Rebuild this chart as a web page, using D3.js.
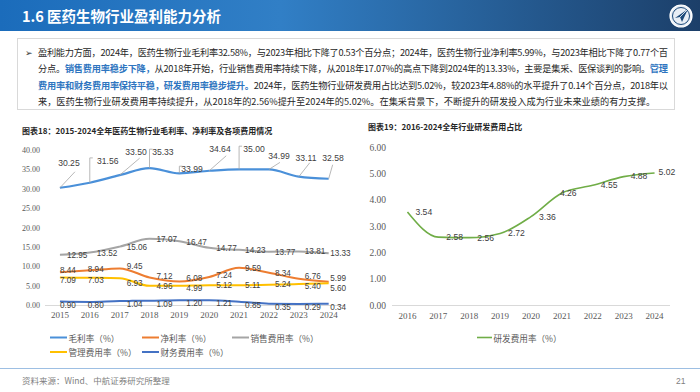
<!DOCTYPE html>
<html><head><meta charset="utf-8">
<script src="https://cdn.jsdelivr.net/npm/d3@7"></script>
<style>
html,body{margin:0;padding:0;background:#fff;}
svg{display:block;}
</style></head>
<body>
<script>
// ---------- data ----------
const years = ['2015','2016','2017','2018','2019','2020','2021','2022','2023','2024'];
const grossMargin    = [30.25,31.56,33.50,35.33,33.99,34.64,35.00,34.99,33.11,32.58];
const netMargin      = [8.44,8.94,9.45,7.12,6.08,7.24,9.59,8.34,6.76,5.99];
const salesExpense   = [12.95,13.52,15.06,17.07,16.47,14.77,14.23,13.77,13.81,13.33];
const adminExpense   = [7.09,7.03,6.93,4.96,4.99,5.12,5.11,5.24,5.40,5.60];
const financeExpense = [0.90,0.80,1.04,1.09,1.20,1.21,0.85,0.35,0.29,0.34];
const leftTicks = [0,5,10,15,20,25,30,35,40];
const leftLegend = ['毛利率（%）','净利率（%）','销售费用率（%）','管理费用率（%）','财务费用率（%）'];

const rdYears = ['2016','2017','2018','2019','2020','2021','2022','2023','2024'];
const rdExpense = [3.54,2.58,2.56,2.72,3.36,4.26,4.55,4.88,5.02];
const rightTicks = [0,1,2,3,4,5,6];
const rightLegend = ['研发费用率（%）'];

const W = 700, H = 392;
const svg = d3.select('body').append('svg').attr('width', W).attr('height', H);
const CJK = '"Noto Sans CJK SC","Noto Sans",sans-serif';
const SERIF = '"Liberation Serif","DejaVu Serif",serif';
const SANS = '"Liberation Sans",Arial,sans-serif';

// ---------- header ----------
const defs = svg.append('defs');
const grad = defs.append('linearGradient').attr('id','hdr').attr('x1','0').attr('x2','1').attr('y1','0').attr('y2','0');
grad.append('stop').attr('offset','0').attr('stop-color','#1b6cbb');
grad.append('stop').attr('offset','0.4').attr('stop-color','#317fc6');
grad.append('stop').attr('offset','1').attr('stop-color','#1c3f69');
svg.append('rect').attr('x',0).attr('y',0).attr('width',W).attr('height',31).attr('fill','url(#hdr)');
svg.append('text').attr('x',22).attr('y',21.5).attr('fill','#fff').attr('font-family',CJK)
  .attr('font-weight','bold').attr('font-size',14.5).text('1.6 医药生物行业盈利能力分析');
// logo
const lg = svg.append('g').attr('transform','translate(681,16)');
lg.append('circle').attr('r',11).attr('fill','#e8eef5').attr('stroke','#fff').attr('stroke-width',1.2);
lg.append('circle').attr('r',8.5).attr('fill','none').attr('stroke','#1c4a7a').attr('stroke-width',1);
lg.append('path').attr('d','M-6,2 L7,-7 L1,6 L-1,1 Z').attr('fill','#1c4a7a');
lg.append('path').attr('d','M-1,1 L7,-7').attr('stroke','#fff').attr('stroke-width',0.8);

// ---------- text box ----------
svg.append('rect').attr('x',17.5).attr('y',38.5).attr('width',657).attr('height',71)
  .attr('fill','#fff').attr('stroke','#d9d9d9').attr('stroke-width',1);
svg.append('text').attr('x',25).attr('y',56).attr('font-size',9).attr('fill','#333')
  .attr('font-family','"DejaVu Sans",sans-serif').text('➢');
const BLUE = '#2e75c0', DARK = '#262626';
const bodyLines = [
  [[ '盈利能力方面，2024年，医药生物行业毛利率32.58%，与2023年相比下降了0.53个百分点；2024年，医药生物行业净利率5.99%，与2023年相比下降了0.77个百', DARK, false]],
  [[ '分点。', DARK, false], ['销售费用率稳步下降，', BLUE, true], ['从2018年开始，行业销售费用率持续下降，从2018年17.07%的高点下降到2024年的13.33%，主要是集采、医保谈判的影响。', DARK, false], ['管理', BLUE, true]],
  [[ '费用率和财务费用率保持平稳，研发费用率稳步提升。', BLUE, true], ['2024年，医药生物行业研发费用占比达到5.02%，较2023年4.88%的水平提升了0.14个百分点，2018年以', DARK, false]],
  [[ '来，医药生物行业研发费用率持续提升，从2018年的2.56%提升至2024年的5.02%。在集采背景下，不断提升的研发投入成为行业未来业绩的有力支撑。', DARK, false]]
];
bodyLines.forEach((segs, i) => {
  const t = svg.append('text').attr('x',38).attr('y',56 + i*16.3)
    .attr('font-family',CJK).attr('font-size',9.2);
  if (i < 3) t.attr('textLength',630).attr('lengthAdjust','spacing');
  segs.forEach(s => t.append('tspan').attr('fill',s[1]).attr('font-weight', s[2] ? 'bold' : 'normal').text(s[0]));
});

// ---------- left chart ----------
svg.append('text').attr('x',22).attr('y',133.5).attr('font-family',CJK).attr('font-weight','bold')
  .attr('font-size',8).attr('fill','#262626').text('图表18：2015-2024全年医药生物行业毛利率、净利率及各项费用情况');

const xL = d3.scaleBand().domain(years).range([45, 343.6]);
const yL = d3.scaleLinear().domain([0,40]).range([305, 150]);
const cx = d => xL(d) + xL.bandwidth()/2;

// axis baseline
svg.append('line').attr('x1',45).attr('x2',343.6).attr('y1',yL(0)+0.5).attr('y2',yL(0)+0.5)
  .attr('stroke','#d9d9d9').attr('stroke-width',1);
// y ticks
const yAxisL = d3.axisLeft(yL).tickValues(leftTicks).tickFormat(d3.format('.2f')).tickSize(0).tickPadding(0);
const gyL = svg.append('g').attr('transform','translate(40,0)').call(yAxisL);
gyL.select('.domain').remove();
gyL.selectAll('text').attr('font-family',SERIF).attr('font-size',8).attr('fill','#595959');
// x ticks
const xAxisL = d3.axisBottom(xL).tickSize(0).tickPadding(0);
const gxL = svg.append('g').attr('transform','translate(0,312)').call(xAxisL);
gxL.select('.domain').remove();
gxL.selectAll('text').attr('font-family',SERIF).attr('font-size',9).attr('fill','#595959');

const leftSeries = [
  {vals: grossMargin,   color:'#4a90d9', w:2.2},
  {vals: netMargin,     color:'#ed7d31', w:2},
  {vals: salesExpense,  color:'#a5a5a5', w:2},
  {vals: adminExpense,  color:'#ffc000', w:2},
  {vals: financeExpense,color:'#4472c4', w:2}
];
const lineL = d3.line().x((d,i)=>cx(years[i])).y(d=>yL(d)).curve(d3.curveMonotoneX);
leftSeries.forEach(s => {
  svg.append('path').datum(s.vals).attr('d', lineL).attr('fill','none')
    .attr('stroke', s.color).attr('stroke-width', s.w).attr('stroke-linejoin','round');
});

// gross margin labels with leader lines (label center offset, leader kind, leader end offset)
const grossLabelLayout = [
  [9,-24.6,'d',15,-16],[18,-21.8,'e'],[16.3,-23.3,'d',20,-17],[13.4,-15.9,'e'],[12.6,-4.1,'e'],
  [10.7,-21.6,'d',17,-15],[14.9,-20.2,'e'],[10,-13.2,'d',11,-7],[7.2,-18.8,'d',11,-14],[4.3,-20.6,'d',4,-14]
];
const LBL = '#404040';
grossMargin.forEach((v,i) => {
  const px = cx(years[i]), py = yL(v), L = grossLabelLayout[i];
  const lx = px + L[0], ly = py + L[1];
  if (L[2] === 'd') {
    svg.append('line').attr('x1',px).attr('y1',py).attr('x2',px+L[3]).attr('y2',py+L[4])
      .attr('stroke','#a6a6a6').attr('stroke-width',0.8);
  } else {
    svg.append('polyline').attr('points', `${px},${py} ${px},${ly-3} ${px+3},${ly-3}`)
      .attr('fill','none').attr('stroke','#a6a6a6').attr('stroke-width',0.8);
  }
  svg.append('text').attr('x',lx).attr('y',ly).attr('text-anchor','middle').attr('dominant-baseline','central')
    .attr('font-family',SANS).attr('font-size',8.6).attr('fill',LBL).text(v.toFixed(2));
});

// lower series labels
const dxWide  = [7,7,7,7,7,7,6,6,6,1.5];
const dxShort = [0,-2,7,7,7,7,6,6,6,1.5];
const labelSpecs = [
  {vals: salesExpense,  dx: dxWide,  dy: [1,1,1,1,1.5,1,1,1,0.5,0.5]},
  {vals: netMargin,     dx: dxShort, dy: [-2,-1,-1.5,-1,-3,-1,0.5,1,-2.5,-3.5]},
  {vals: adminExpense,  dx: dxShort, dy: [2.5,2.5,5,1,3,0.5,0,0,2.5,5.5]},
  {vals: financeExpense,dx: dxShort, dy: [3.5,3.5,3.5,3.5,3.5,3.5,3.5,3.5,3.5,3.5]}
];
labelSpecs.forEach(s => {
  s.vals.forEach((v,i) => {
    svg.append('text').attr('x', cx(years[i]) + s.dx[i]).attr('y', yL(v) + s.dy[i])
      .attr('dominant-baseline','central').attr('font-family',SANS).attr('font-size',8.2)
      .attr('fill',LBL).text(v.toFixed(2));
  });
});

// left legend
const legPos = [[50,337.5],[142,337.5],[232,337.5],[50,352],[142,352]];
const legColors = ['#4a90d9','#ed7d31','#a5a5a5','#ffc000','#4472c4'];
leftLegend.forEach((name,i) => {
  const [x,y] = legPos[i];
  svg.append('line').attr('x1',x).attr('x2',x+17).attr('y1',y).attr('y2',y)
    .attr('stroke',legColors[i]).attr('stroke-width',2);
  svg.append('text').attr('x',x+18.5).attr('y',y).attr('dominant-baseline','central')
    .attr('font-family',CJK).attr('font-size',8.6).attr('fill','#595959').text(name);
});

// ---------- right chart ----------
svg.append('text').attr('x',368).attr('y',130).attr('font-family',CJK).attr('font-weight','bold')
  .attr('font-size',8).attr('fill','#262626').text('图表19：2016-2024全年行业研发费用占比');

const xR = d3.scaleBand().domain(rdYears).range([392, 670]);
const yR = d3.scaleLinear().domain([0,6]).range([305, 147.2]);
const cxR = d => xR(d) + xR.bandwidth()/2;

svg.append('line').attr('x1',392).attr('x2',670).attr('y1',yR(0)+0.5).attr('y2',yR(0)+0.5)
  .attr('stroke','#d9d9d9').attr('stroke-width',1);
const gyR = svg.append('g').attr('transform','translate(386,0)')
  .call(d3.axisLeft(yR).tickValues(rightTicks).tickFormat(d3.format('.2f')).tickSize(0).tickPadding(0));
gyR.select('.domain').remove();
gyR.selectAll('text').attr('font-family',SERIF).attr('font-size',9.5).attr('fill','#595959');
const gxR = svg.append('g').attr('transform','translate(0,313)')
  .call(d3.axisBottom(xR).tickSize(0).tickPadding(0));
gxR.select('.domain').remove();
gxR.selectAll('text').attr('font-family',SERIF).attr('font-size',9).attr('fill','#595959');

const lineR = d3.line().x((d,i)=>cxR(rdYears[i])).y(d=>yR(d)).curve(d3.curveMonotoneX);
svg.append('path').datum(rdExpense).attr('d',lineR).attr('fill','none')
  .attr('stroke','#70ad47').attr('stroke-width',1.6);
const dxR = [8,8,8,8,8,-2,8,7,4];
const dyR = [0,0,0,0,0,0,0,-1,-0.5];
rdExpense.forEach((v,i) => {
  svg.append('text').attr('x', cxR(rdYears[i]) + dxR[i]).attr('y', yR(v) + dyR[i])
    .attr('dominant-baseline','central').attr('font-family',SANS).attr('font-size',8.6)
    .attr('fill',LBL).text(v.toFixed(2));
});
// right legend
svg.append('line').attr('x1',477).attr('x2',492).attr('y1',337.5).attr('y2',337.5)
  .attr('stroke','#70ad47').attr('stroke-width',1.6);
svg.append('text').attr('x',493.5).attr('y',337.5).attr('dominant-baseline','central')
  .attr('font-family',CJK).attr('font-size',8.6).attr('fill','#595959').text(rightLegend[0]);

// ---------- footer ----------
svg.append('line').attr('x1',0).attr('x2',W).attr('y1',368.5).attr('y2',368.5)
  .attr('stroke','#9dbfe3').attr('stroke-width',1.2);
svg.append('text').attr('x',22).attr('y',384).attr('font-family',CJK).attr('font-size',8.5)
  .attr('fill','#7f7f7f').text('资料来源：Wind、中航证券研究所整理');
svg.append('text').attr('x',676).attr('y',384).attr('font-family',SANS).attr('font-size',8.5)
  .attr('fill','#7f7f7f').text('21');
</script>
</body></html>
